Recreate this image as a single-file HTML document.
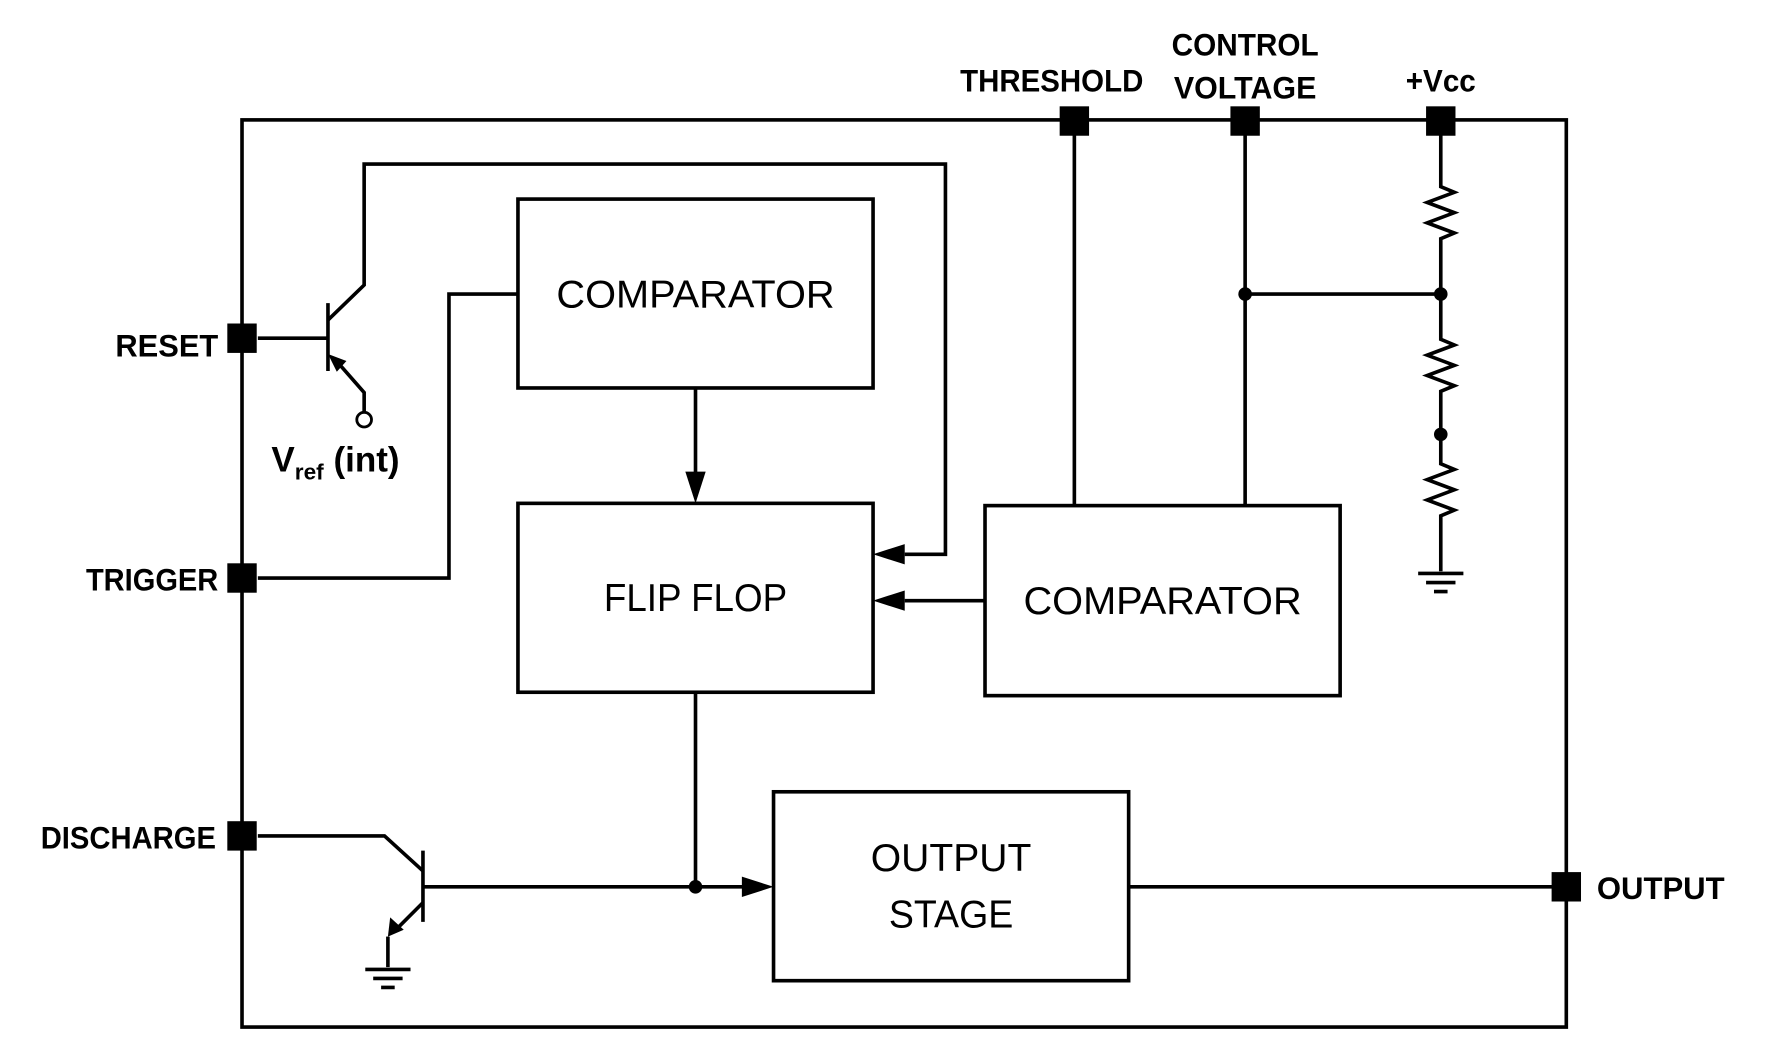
<!DOCTYPE html>
<html><head><style>html,body{margin:0;padding:0;background:#fff}svg{display:block}</style></head>
<body>
<svg width="1771" height="1061" viewBox="0 0 1566 938" preserveAspectRatio="none" xmlns="http://www.w3.org/2000/svg">
<g fill="none" stroke="#000" stroke-width="3.2">
<rect x="214" y="106" width="1171" height="802"/>
<rect x="458" y="176" width="314" height="167"/>
<rect x="458" y="445" width="314" height="167"/>
<rect x="871" y="447" width="314" height="168"/>
<rect x="684" y="700" width="314" height="167"/>
<path d="M228,299 H290"/>
<path d="M290,268 V328"/>
<path d="M290,283 L322,252 V145 H836 V490 H800"/>
<path d="M322,365 V347 L300,322"/>
<circle cx="322" cy="371" r="6.5" stroke-width="2.5"/>
<path d="M228,511 H397 V260 H458"/>
<path d="M615,343 V420"/>
<path d="M871,531 H800"/>
<path d="M950,106 V447"/>
<path d="M1101,106 V447"/>
<path d="M1101,260 H1274"/>
<path d="M1274,119 V165 l12,5 l-24,9 l24,9 l-24,9 l24,9 l-12,5 V300 l12,5 l-24,9 l24,9 l-24,9 l24,9 l-12,5 V410 l12,5 l-24,9 l24,9 l-24,9 l24,9 l-12,5 V505"/>
<path d="M1254,507 H1294 M1261,515 H1287 M1268,523 H1280"/>
<path d="M615,612 V784"/>
<path d="M374,784 H660"/>
<path d="M998,784 H1385"/>
<path d="M228,739 H340 L374,770"/>
<path d="M374,752 V815"/>
<path d="M374,798 L350,822"/>
<path d="M343,828 V855"/>
<path d="M323,857 H363 M330,865 H356 M337,873 H349"/>
</g>
<g fill="#000">
<path d="M772,490 L800,481 L800,499 z"/>
<path d="M772,531 L800,522 L800,540 z"/>
<path d="M615,445 L606,417 L624,417 z"/>
<path d="M684,784 L656,775 L656,793 z"/>
<path d="M290,313 L306,320 L297,329 z" transform="rotate(-3 290 313)"/>
<path d="M343,828 L345,811 L357,822 z"/>
<circle cx="1101" cy="260" r="6"/>
<circle cx="1274" cy="260" r="6"/>
<circle cx="1274" cy="384" r="6"/>
<circle cx="615" cy="784" r="6"/>
<rect x="201" y="286" width="26" height="26"/>
<rect x="201" y="498" width="26" height="26"/>
<rect x="201" y="726" width="26" height="26"/>
<rect x="1372" y="771" width="26" height="26"/>
<rect x="937" y="94" width="26" height="26"/>
<rect x="1088" y="94" width="26" height="26"/>
<rect x="1261" y="94" width="26" height="26"/>
</g>
<g font-family="Liberation Sans, sans-serif" fill="#000">
<g font-size="34" text-anchor="middle">
<text x="615" y="272" textLength="246" lengthAdjust="spacingAndGlyphs">COMPARATOR</text>
<text x="615" y="540" textLength="162" lengthAdjust="spacingAndGlyphs">FLIP FLOP</text>
<text x="1028" y="543" textLength="246" lengthAdjust="spacingAndGlyphs">COMPARATOR</text>
<text x="841" y="770" textLength="142" lengthAdjust="spacingAndGlyphs">OUTPUT</text>
<text x="841" y="820" textLength="110" lengthAdjust="spacingAndGlyphs">STAGE</text>
</g>
<g font-size="28" font-weight="bold">
<text x="193" y="315" text-anchor="end" textLength="91" lengthAdjust="spacingAndGlyphs">RESET</text>
<text x="193" y="522" text-anchor="end" textLength="117" lengthAdjust="spacingAndGlyphs">TRIGGER</text>
<text x="191" y="750" text-anchor="end" textLength="155" lengthAdjust="spacingAndGlyphs">DISCHARGE</text>
<text x="1412" y="795" textLength="113" lengthAdjust="spacingAndGlyphs">OUTPUT</text>
<text x="930" y="81" text-anchor="middle" textLength="162" lengthAdjust="spacingAndGlyphs">THRESHOLD</text>
<text x="1101" y="49" text-anchor="middle" textLength="130" lengthAdjust="spacingAndGlyphs">CONTROL</text>
<text x="1101" y="87" text-anchor="middle" textLength="126" lengthAdjust="spacingAndGlyphs">VOLTAGE</text>
<text x="1274" y="81" text-anchor="middle" textLength="62" lengthAdjust="spacingAndGlyphs">+Vcc</text>
</g>
<text x="240" y="417" font-size="31" font-weight="bold">V<tspan font-size="20" dy="7">ref</tspan><tspan dy="-7"> (int)</tspan></text>
</g>
</svg>
</body></html>
